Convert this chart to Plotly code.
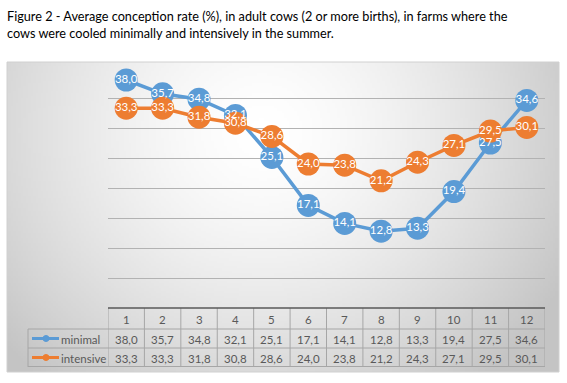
import base64, struct, zlib
import plotly.graph_objects as go

# ---------------- data ----------------
months = [1, 2, 3, 4, 5, 6, 7, 8, 9, 10, 11, 12]
minimal = [38.0, 35.7, 34.8, 32.1, 25.1, 17.1, 14.1, 12.8, 13.3, 19.4, 27.5, 34.6]
intensive = [33.3, 33.3, 31.8, 30.8, 28.6, 24.0, 23.8, 21.2, 24.3, 27.1, 29.5, 30.1]
series_names = ["minimal", "intensive"]
y_ticks = [0, 5, 10, 15, 20, 25, 30, 35, 40]
title_text = ("Figure 2 - Average conception rate (%), in adult cows (2 or more births), in farms where the<br>"
              "cows were cooled minimally and intensively in the summer.")

BLUE = "#5B9BD5"
ORANGE = "#ED7D31"
TXT = "#595959"
FONT = "Lato"

def fmt(v):
    return f"{v:.1f}".replace(".", ",")

# ---------------- layout geometry (pixels) ----------------
W, H = 567, 383
PL, PR, PT = 108, 545, 68
P0 = 308                # pixel row of value 0
PB = 367                # bottom of plot area (table bottom)
UNIT = (P0 - PT) / 40.0 # pixels per %
pw, ph = PR - PL, PB - PT

def px(x):   # pixel x -> paper x
    return (x - PL) / pw

def py(y):   # pixel y -> paper y
    return (PB - y) / ph

def vy(y):   # pixel y -> data y
    return (P0 - y) / UNIT

# ---------------- background gradient image ----------------
def make_png(w, h):
    rows = []
    cx, cy = 0.46 * w, 0.22 * h
    rx, ry = 0.62 * w, 1.05 * h
    for j in range(h):
        row = bytearray([0])
        for i in range(w):
            d = (((i - cx) / rx) ** 2 + ((j - cy) / ry) ** 2) ** 0.5
            d = min(d, 1.0)
            v = int(round(255 - (255 - 196) * d ** 1.5))
            row += bytes([v, v, v])
        rows.append(bytes(row))
    raw = b"".join(rows)
    def chunk(t, data):
        c = struct.pack(">I", len(data)) + t + data
        return c + struct.pack(">I", zlib.crc32(t + data) & 0xffffffff)
    png = b"\x89PNG\r\n\x1a\n"
    png += chunk(b"IHDR", struct.pack(">IIBBBBB", w, h, 8, 2, 0, 0, 0))
    png += chunk(b"IDAT", zlib.compress(raw, 9))
    png += chunk(b"IEND", b"")
    return "data:image/png;base64," + base64.b64encode(png).decode()

bg = make_png(220, 124)

FX0, FX1, FY0, FY1 = 7, 559, 62, 372   # chart frame

fig = go.Figure()

colors = [BLUE, ORANGE]
vals = [minimal, intensive]
for name, v, c in zip(series_names, vals, colors):
    fig.add_trace(go.Scatter(
        x=months, y=v, mode="lines+markers", name=name,
        line=dict(color=c, width=3.5),
        marker=dict(size=23, color=c),
        cliponaxis=False, showlegend=False, hoverinfo="skip"))
for name, v, c in zip(series_names, vals, colors):
    fig.add_trace(go.Scatter(
        x=months, y=v, mode="text", text=[fmt(a) for a in v],
        textposition="middle center",
        textfont=dict(color="white", size=11.5, family=FONT),
        cliponaxis=False, showlegend=False, hoverinfo="skip"))

shapes = []
annotations = []
GRID = "#a6a6a6"

# table rows (pixel y)
r_top, r1, r2, r_bot = 309, 329, 348, 367
for yy in (r1, r2, r_bot - 0.5):
    shapes.append(dict(type="line", xref="paper", yref="y", x0=px(28), x1=px(PR),
                       y0=vy(yy), y1=vy(yy), line=dict(color=GRID, width=1)))
shapes.append(dict(type="line", xref="paper", yref="y", x0=px(28), x1=px(28),
                   y0=vy(r1), y1=vy(r_bot), line=dict(color=GRID, width=1)))
for k in range(len(months) + 1):
    shapes.append(dict(type="line", xref="x", yref="y", x0=k + 0.5, x1=k + 0.5,
                       y0=0, y1=vy(r_bot), line=dict(color=GRID, width=1)))
# dark top line of the table (category axis)
shapes.append(dict(type="line", xref="x", yref="y", x0=0.5, x1=12.5, y0=0, y1=0,
                   line=dict(color="#595959", width=1.5)))

# header + values
for m in months:
    annotations.append(dict(x=m, y=vy((r_top + r1) / 2 + 0.5), xref="x", yref="y",
                            text=str(m), showarrow=False,
                            font=dict(size=11.5, color=TXT, family=FONT)))
for row_y, nxt, v in ((r1, r2, minimal), (r2, r_bot, intensive)):
    for m, a in zip(months, v):
        annotations.append(dict(x=m, y=vy((row_y + nxt) / 2 + 0.5), xref="x", yref="y",
                                text=fmt(a), showarrow=False,
                                font=dict(size=11.5, color=TXT, family=FONT)))

# legend keys in table
for (row_y, nxt), name, c in zip(((r1, r2), (r2, r_bot)), series_names, colors):
    yc = (row_y + nxt) / 2
    shapes.append(dict(type="line", xref="paper", yref="y", x0=px(32), x1=px(59),
                       y0=vy(yc), y1=vy(yc), line=dict(color=c, width=3)))
    shapes.append(dict(type="circle", xref="paper", yref="y", x0=px(43), x1=px(49),
                       y0=vy(yc + 3), y1=vy(yc - 3), line=dict(color=c, width=1), fillcolor=c))
    annotations.append(dict(x=px(59), y=vy(yc + 0.5), xref="paper", yref="y", text=name,
                            xanchor="left", showarrow=False,
                            font=dict(size=11.5, color=TXT, family=FONT)))

# title
annotations.append(dict(x=px(5), y=py(6), xref="paper", yref="paper", text=title_text,
                        xanchor="left", yanchor="top", align="left", showarrow=False,
                        font=dict(size=12.7, color="black", family=FONT)))

# chart frame
shapes.append(dict(type="rect", xref="paper", yref="paper", x0=px(FX0), x1=px(FX1),
                   y0=py(FY1), y1=py(FY0), line=dict(color="#d0d0d0", width=1), layer="below"))

fig.update_layout(
    width=W, height=H,
    margin=dict(l=PL, r=W - PR, t=PT, b=H - PB),
    paper_bgcolor="white", plot_bgcolor="rgba(0,0,0,0)",
    xaxis=dict(range=[0.5, 12.5], showticklabels=False, showgrid=False, zeroline=False,
               showline=False, ticks=""),
    yaxis=dict(range=[vy(PB), 40], tickmode="array", tickvals=y_ticks[1:],
               showticklabels=False, showgrid=True,
               gridcolor="#b2b2b2", gridwidth=1, zeroline=False, showline=False),
    images=[dict(source=bg, xref="paper", yref="paper", x=px(FX0), y=py(FY0),
                 sizex=(FX1 - FX0) / pw, sizey=(FY1 - FY0) / ph, sizing="stretch",
                 xanchor="left", yanchor="top", layer="below")],
    shapes=shapes, annotations=annotations,
)

fig.write_html("out.html", config={"displayModeBar": False},
               post_script="document.body.style.margin='0';document.body.style.padding='0';")
